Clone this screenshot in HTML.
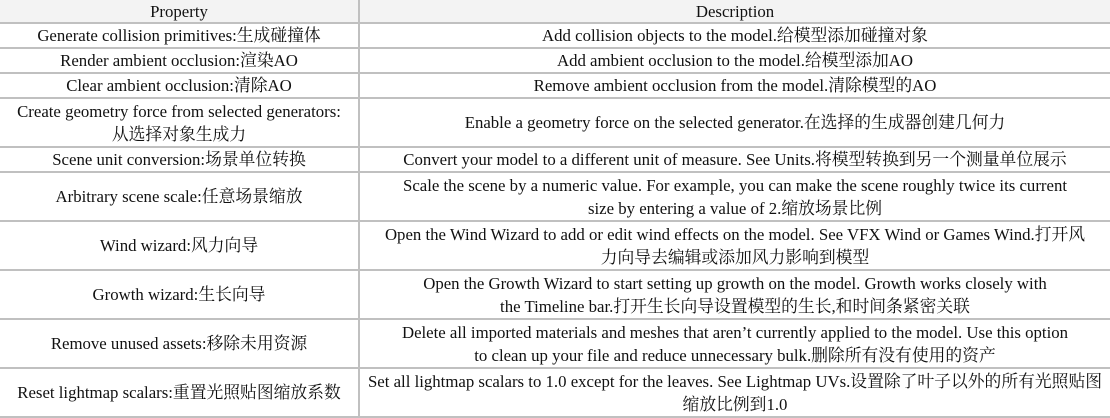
<!DOCTYPE html>
<html><head><meta charset="utf-8"><style>
html,body{margin:0;padding:0;background:#fff;}
body{width:1110px;height:418px;position:relative;overflow:hidden;font-family:"Liberation Serif","Noto Serif CJK SC",serif;font-size:16.8px;color:#111;}
.r{position:absolute;left:0;width:1110px;border-bottom:2px solid #c0c0c0;box-sizing:border-box;}
.c{position:absolute;top:0;bottom:0;display:flex;align-items:center;justify-content:center;text-align:center;line-height:23px;white-space:nowrap;}
.a{left:0;width:360px;border-right:2px solid #c0c0c0;box-sizing:border-box;}
.b{left:360px;width:750px;}
.h{background:#f3f3f3;}
</style></head><body>
<div class="r h" style="top:0;height:24px"><div class="c a">Property</div><div class="c b">Description</div></div>
<div class="r" style="top:24px;height:25px"><div class="c a">Generate collision primitives:生成碰撞体</div><div class="c b">Add collision objects to the model.给模型添加碰撞对象</div></div>
<div class="r" style="top:49px;height:25px"><div class="c a">Render ambient occlusion:渲染AO</div><div class="c b">Add ambient occlusion to the model.给模型添加AO</div></div>
<div class="r" style="top:74px;height:25px"><div class="c a">Clear ambient occlusion:清除AO</div><div class="c b">Remove ambient occlusion from the model.清除模型的AO</div></div>
<div class="r" style="top:99px;height:49px"><div class="c a">Create geometry force from selected generators:<br>从选择对象生成力</div><div class="c b">Enable a geometry force on the selected generator.在选择的生成器创建几何力</div></div>
<div class="r" style="top:148px;height:25px"><div class="c a">Scene unit conversion:场景单位转换</div><div class="c b">Convert your model to a different unit of measure. See Units.将模型转换到另一个测量单位展示</div></div>
<div class="r" style="top:173px;height:49px"><div class="c a">Arbitrary scene scale:任意场景缩放</div><div class="c b">Scale the scene by a numeric value. For example, you can make the scene roughly twice its current<br>size by entering a value of 2.缩放场景比例</div></div>
<div class="r" style="top:222px;height:49px"><div class="c a">Wind wizard:风力向导</div><div class="c b">Open the Wind Wizard to add or edit wind effects on the model. See VFX Wind or Games Wind.打开风<br>力向导去编辑或添加风力影响到模型</div></div>
<div class="r" style="top:271px;height:49px"><div class="c a">Growth wizard:生长向导</div><div class="c b">Open the Growth Wizard to start setting up growth on the model. Growth works closely with<br>the Timeline bar.打开生长向导设置模型的生长,和时间条紧密关联</div></div>
<div class="r" style="top:320px;height:49px"><div class="c a">Remove unused assets:移除未用资源</div><div class="c b">Delete all imported materials and meshes that aren’t currently applied to the model. Use this option<br>to clean up your file and reduce unnecessary bulk.删除所有没有使用的资产</div></div>
<div class="r" style="top:369px;height:49px"><div class="c a">Reset lightmap scalars:重置光照贴图缩放系数</div><div class="c b">Set all lightmap scalars to 1.0 except for the leaves. See Lightmap UVs.设置除了叶子以外的所有光照贴图<br>缩放比例到1.0</div></div>
</body></html>
